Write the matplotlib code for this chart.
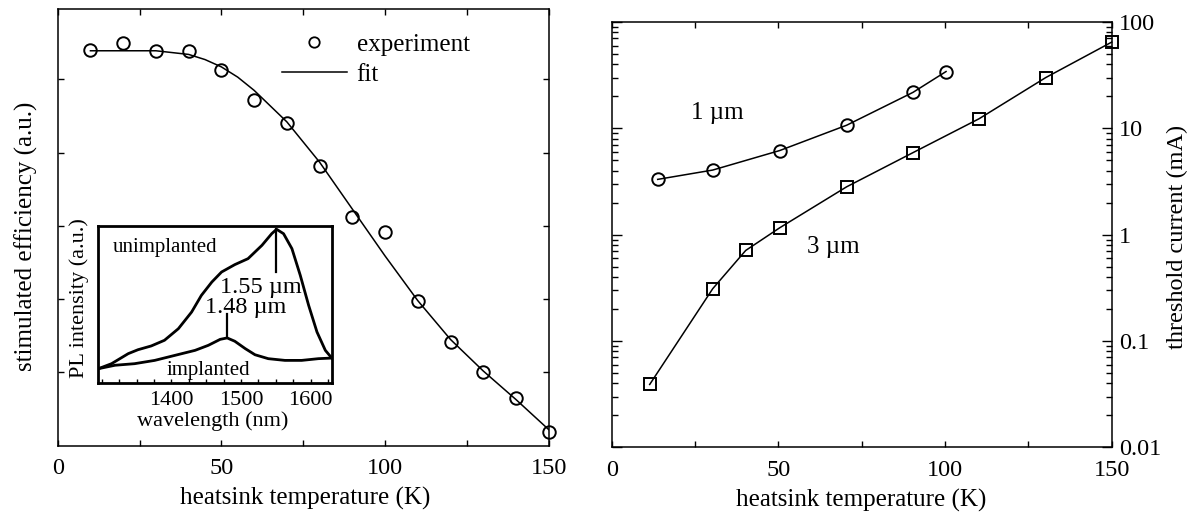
import numpy as np
import matplotlib.pyplot as plt
from matplotlib.lines import Line2D
from matplotlib.ticker import MultipleLocator, FixedLocator, LogLocator, NullFormatter

plt.rcParams['font.family'] = 'serif'
plt.rcParams['font.serif'] = ['Liberation Serif', 'DejaVu Serif']
plt.rcParams['axes.linewidth'] = 1.1

# stimulated efficiency vs heatsink temperature
T_exp = [10, 20, 30, 40, 50, 60, 70, 80, 90, 100, 110, 120, 130, 140, 150]
eff_exp = [5.40, 5.49, 5.38, 5.39, 5.13, 4.72, 4.40, 3.82, 3.12, 2.91, 1.97, 1.42, 1.00, 0.65, 0.19]
T_fit = [10, 20, 30, 40, 45, 50, 55, 60, 70, 80, 90, 100, 110, 120, 130, 140, 150]
eff_fit = [5.39, 5.39, 5.39, 5.34, 5.27, 5.17, 5.03, 4.85, 4.42, 3.87, 3.23, 2.59, 1.98, 1.45, 1.02, 0.63, 0.22]

# PL spectra (inset)
wl_un = [1295, 1314, 1338, 1352, 1371, 1390, 1410, 1429, 1443, 1458, 1472, 1491, 1510,
         1530, 1544, 1551, 1561, 1573, 1585, 1597, 1609, 1621, 1631]
pl_un = [0.091, 0.123, 0.187, 0.212, 0.236, 0.272, 0.346, 0.452, 0.558, 0.643, 0.707, 0.754, 0.792,
         0.877, 0.951, 0.979, 0.951, 0.856, 0.686, 0.495, 0.325, 0.208, 0.155]
wl_im = [1295, 1319, 1347, 1376, 1405, 1434, 1453, 1470, 1480, 1491, 1506, 1520, 1539,
         1563, 1587, 1611, 1631]
pl_im = [0.091, 0.113, 0.123, 0.144, 0.176, 0.208, 0.240, 0.278, 0.287, 0.266, 0.219, 0.180, 0.155,
         0.144, 0.144, 0.155, 0.159]

# threshold current vs heatsink temperature
T_1um = [13.8, 30.3, 50.4, 70.5, 90.4, 100.3]
I_1um = [3.31, 4.05, 6.18, 10.7, 21.8, 34.2]
T_3um = [11.4, 30.3, 40.2, 50.4, 70.5, 90.4, 110.2, 130.2, 150]
I_3um = [0.039, 0.31, 0.71, 1.16, 2.82, 5.91, 12.3, 30.0, 64.7]

W, H = 1191, 521
fig = plt.figure(figsize=(W / 100, H / 100), dpi=100)

def box(x0, y0, x1, y1):
    return [x0 / W, 1 - y1 / H, (x1 - x0) / W, (y1 - y0) / H]

fs = 18

# ---- left panel
ax = fig.add_axes(box(57.7, 9, 548.7, 445.7))
ax.plot(T_fit, eff_fit, color='k', lw=1.1)
ax.plot(T_exp, eff_exp, ls='none', marker='o', ms=9, mfc='none', mec='k', mew=1.4, clip_on=False)
ax.set_xlim(0, 150)
ax.set_ylim(0, 5.96)
ax.xaxis.set_major_locator(FixedLocator([0, 50, 100, 150]))
ax.xaxis.set_minor_locator(FixedLocator([25, 75, 125]))
ax.yaxis.set_major_locator(FixedLocator([1, 2, 3, 4, 5]))
ax.tick_params(which='both', direction='in', top=True, right=True, length=4, width=1,
               labelsize=17.5, pad=9)
ax.set_yticklabels([])
ax.set_xlabel('heatsink temperature (K)', fontsize=fs, va='center')
ax.xaxis.set_label_coords(0.504, -0.1198)
ax.set_ylabel('stimulated efficiency (a.u.)', fontsize=fs, va='center')
ax.yaxis.set_label_coords(-0.0646, 0.48)

handles = [Line2D([], [], ls='none', marker='o', ms=7.5, mfc='none', mec='k', mew=1.3),
           Line2D([], [], color='k', lw=1.1)]
ax.legend(handles, ['experiment', 'fit'], loc='upper left', bbox_to_anchor=(0.456, 0.945),
          frameon=False, fontsize=fs, handlelength=2.6, handletextpad=0.4,
          borderpad=0, borderaxespad=0, labelspacing=0.3)

# ---- inset
ins = fig.add_axes(box(98.3, 226, 332.3, 383))
ins.plot(wl_un, pl_un, color='k', lw=2.0)
ins.plot(wl_im, pl_im, color='k', lw=2.0)
ins.plot([1550, 1550], [0.707, 0.98], color='k', lw=1.6)
ins.plot([1480, 1480], [0.293, 0.441], color='k', lw=1.6)
ins.set_xlim(1295, 1631)
ins.set_ylim(0, 1)
ins.set_yticks([])
ins.xaxis.set_major_locator(FixedLocator([1400, 1500, 1600]))
ins.xaxis.set_minor_locator(MultipleLocator(25))
ins.tick_params(which='both', direction='in', length=3, width=1, labelsize=16, pad=6)
for s in ins.spines.values():
    s.set_linewidth(2)
ins.text(1316, 0.866, 'unimplanted', fontsize=15, va='center')
ins.text(1470, 0.611, '1.55 µm', fontsize=17.5, va='center')
ins.text(1448, 0.478, '1.48 µm', fontsize=17.5, va='center')
ins.text(1393, 0.081, 'implanted', fontsize=15, va='center')
ins.set_xlabel('wavelength (nm)', fontsize=16, va='center')
ins.xaxis.set_label_coords(0.488, -0.246)
ins.set_ylabel('PL intensity (a.u.)', fontsize=16, va='center')
ins.yaxis.set_label_coords(-0.08, 0.541)

# ---- right panel
ax2 = fig.add_axes(box(611.7, 22, 1111.7, 447.3))
ax2.set_yscale('log')
ax2.plot(T_1um, I_1um, color='k', lw=1.1, marker='o', ms=9, mfc='none', mec='k', mew=1.4,
         clip_on=False)
ax2.plot(T_3um, I_3um, color='k', lw=1.1, marker='s', ms=8.5, mfc='none', mec='k', mew=1.4,
         clip_on=False)
ax2.set_xlim(0, 150)
ax2.set_ylim(0.01, 100)
ax2.xaxis.set_major_locator(FixedLocator([0, 50, 100, 150]))
ax2.xaxis.set_minor_locator(FixedLocator([25, 75, 125]))
ax2.yaxis.set_major_locator(FixedLocator([0.01, 0.1, 1, 10, 100]))
ax2.yaxis.set_minor_locator(LogLocator(base=10, subs=np.arange(2, 10)))
ax2.yaxis.set_minor_formatter(NullFormatter())
ax2.set_yticklabels(['0.01', '0.1', '1', '10', '100'])
ax2.tick_params(which='both', direction='in', top=True, right=True, left=True,
                labelleft=False, labelright=True, width=1, labelsize=17.5)
ax2.tick_params(axis='x', which='both', length=4, pad=9)
ax2.tick_params(axis='y', which='major', length=7, pad=5)
ax2.tick_params(axis='y', which='minor', length=4)
ax2.text(23.8, 13.9, '1 µm', fontsize=fs, va='center')
ax2.text(58.6, 0.77, '3 µm', fontsize=fs, va='center')
ax2.set_xlabel('heatsink temperature (K)', fontsize=fs, va='center')
ax2.xaxis.set_label_coords(0.4996, -0.124)
ax2.set_ylabel('threshold current (mA)', fontsize=17.5)
ax2.yaxis.set_label_position('right')
ax2.yaxis.label.set_verticalalignment('center')
ax2.yaxis.set_label_coords(1.1306, 0.4945)

fig.savefig('out.png', dpi=100)
